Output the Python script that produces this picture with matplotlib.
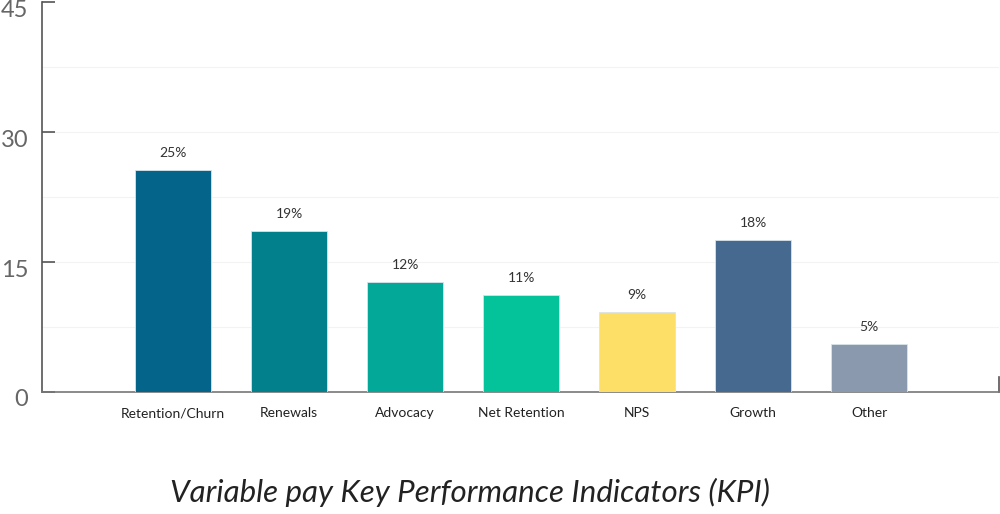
import numpy as np
import matplotlib.pyplot as plt
import matplotlib.transforms as mtransforms

# KPI categories and bar heights
categories = ['Retention/Churn', 'Renewals', 'Advocacy', 'Net Retention', 'NPS', 'Growth', 'Other']
heights = [25.6, 18.6, 12.7, 11.2, 9.2, 17.5, 5.5]
value_labels = ['25%', '19%', '12%', '11%', '9%', '18%', '5%']
bar_colors = ['#05648A', '#02808C', '#03A898', '#04C39A', '#FDDE66', '#46698F', '#8B99AF']
y_ticks = [0, 15, 30, 45]

plt.rcParams['font.family'] = ['Lato', 'DejaVu Sans']

fig = plt.figure(figsize=(10, 5.14), dpi=100)
ax = fig.add_axes([0.042, 0.2374, 0.957, 0.7586])

x = np.arange(len(categories))
ax.bar(x, heights, width=0.65, color=bar_colors, edgecolor='#d8e4ea', linewidth=0.6, zorder=3)

for xi, h, lab in zip(x, heights, value_labels):
    ax.annotate(lab, (xi, h), xytext=(0, 8), textcoords='offset points',
                ha='center', va='bottom', fontsize=10, color='#333333')

ax.set_xlim(-1.13, 7.12)
ax.set_ylim(0, 45)

# faint gridlines every 7.5
for g in np.arange(7.5, 45, 7.5):
    ax.axhline(g, color='#f3f3f3', linewidth=0.8, zorder=0)

ax.set_yticks(y_ticks)
ax.set_yticklabels([str(t) for t in y_ticks], fontsize=17, color='#666666')
ax.tick_params(axis='y', direction='in', length=9, width=1.2, color='#555555', pad=10)
offset = mtransforms.ScaledTranslation(0, -6 / 100, fig.dpi_scale_trans)
for lbl in ax.get_yticklabels():
    lbl.set_transform(lbl.get_transform() + offset)

ax.set_xticks(x)
ax.set_xticklabels(categories, fontsize=10, color='#222222')
ax.tick_params(axis='x', length=0, pad=11)

ax.spines['top'].set_visible(False)
ax.spines['left'].set_color('#555555')
ax.spines['left'].set_linewidth(1.2)
ax.spines['bottom'].set_color('#777777')
ax.spines['bottom'].set_linewidth(1.2)
ax.spines['right'].set_color('#555555')
ax.spines['right'].set_linewidth(1.2)
ax.spines['right'].set_bounds(0, 1.7)

fig.text(0.47, 0.042, 'Variable pay Key Performance Indicators (KPI)', ha='center', va='center',
         fontsize=22.5, style='italic', color='#222222')

fig.savefig('out.png', dpi=100)
